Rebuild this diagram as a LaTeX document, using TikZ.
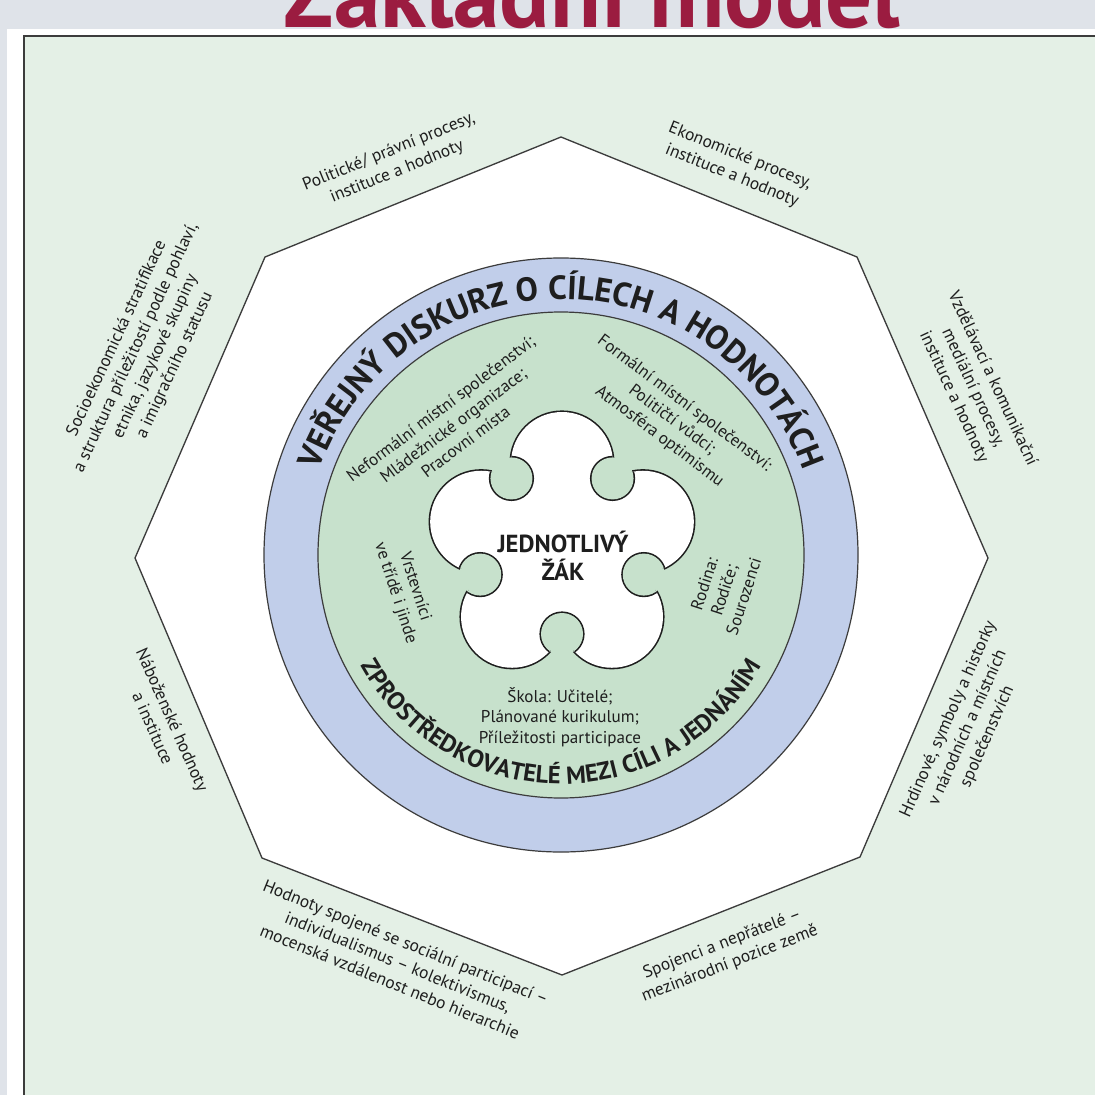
\documentclass[tikz,border=0pt]{standalone}
\usepackage{fontspec}
\setmainfont{PT Sans}
\usetikzlibrary{decorations.text}
\definecolor{panelgreen}{RGB}{228,240,230}
\definecolor{innergreen}{RGB}{199,225,204}
\definecolor{ringblue}{RGB}{193,206,234}
\definecolor{bggrey}{RGB}{223,227,233}
\definecolor{titlered}{RGB}{155,28,64}
\definecolor{ink}{RGB}{30,30,30}
\definecolor{edgegrey}{RGB}{60,60,60}
\tikzset{
  lbl/.style={font=\fontsize{13pt}{16pt}\selectfont, text=ink, align=center, inner sep=0pt},
  ilbl/.style={font=\fontsize{12.8pt}{15.5pt}\selectfont, text=ink, align=center, inner sep=0pt},
  outline/.style={draw=edgegrey, line width=0.9pt},
}
\begin{document}
\begin{tikzpicture}[x=0.75pt,y=-0.75pt]
\useasboundingbox (0,0) rectangle (1095,1095);
\fill[bggrey] (0,0) rectangle (1095,1095);
\fill[white] (7,29) rectangle (1095,1095);
\begin{scope}
\clip (0,0) rectangle (1095,1095);
\node[anchor=base, text=titlered, font=\fontsize{70pt}{70pt}\selectfont\bfseries, inner sep=0pt] (title) at (592,28) {Základní model};
\end{scope}
\draw[fill=panelgreen, draw=edgegrey, line width=1.2pt] (24,36) rectangle (1110,1110);

% octagon
\draw[fill=white, draw=edgegrey, line width=1pt] (561,137) -- (857,257) -- (988,558) -- (860,857) -- (562,975) -- (262,858) -- (135,558) -- (265,257) -- cycle;

% rings
\begin{scope}[shift={(561,555)}, y=0.75pt]
\draw[fill=ringblue, outline] (0,0) circle (297);
\draw[fill=innergreen, outline] (0,0) circle (243);
\path[decorate, decoration={text along path, text align=center, text color=ink,
  text={|\fontsize{25pt}{25pt}\selectfont\bfseries|VEŘEJNÝ DISKURZ O CÍLECH A HODNOTÁCH}}]
  (175:256) arc[start angle=175, end angle=5, radius=256];
\path[decorate, decoration={text along path, text align=center, text color=ink,
  text={|\fontsize{18.5pt}{18.5pt}\selectfont\bfseries|ZPROSTŘEDKOVATELÉ MEZI CÍLI A JEDNÁNÍM}}]
  (185:229) arc[start angle=185, end angle=355, radius=229];
\end{scope}

% flower
\begin{scope}[shift={(562,548)}, y=0.75pt]
\fill[white] (0,0) circle (72) \foreach \a in {18,90,162,234,306} {(\a:85) circle (51)};
\foreach \a in {18,90,162,234,306} \draw[ink, line width=2.4pt] (\a:85) circle (51);
\fill[white] (0,0) circle (72) \foreach \a in {18,90,162,234,306} {(\a:85) circle (51)};
\fill[innergreen] \foreach \b in {54,126,198,270,342} {(\b:86) circle (21)};
\begin{scope}
\clip (0,0) circle (72) \foreach \a in {18,90,162,234,306} {(\a:85) circle (51)};
\draw[ink, line width=2.4pt] \foreach \b in {54,126,198,270,342} {(\b:86) circle (21)};
\fill[innergreen] \foreach \b in {54,126,198,270,342} {(\b:86) circle (21)};
\end{scope}
\end{scope}

\node[font=\fontsize{18.5pt}{21pt}\selectfont\bfseries, text=ink, align=center, inner sep=0pt] (zak) at (563,556) {JEDNOTLIVÝ\\ŽÁK};

% inner labels
\node[ilbl, rotate=37] (neform) at (453,425) {Neformální místní společenství;\\Mládežnické organizace;\\Pracovní místa};
\node[ilbl, rotate=-37] (form) at (672,420) {Formální místní společenství:\\Političtí vůdci;\\Atmosféra optimismu};
\node[ilbl, rotate=-72] (vrst) at (405,590) {Vrstevníci\\ve třídě i jinde};
\node[ilbl, rotate=72] (rod) at (724,590) {Rodina:\\Rodiče;\\Sourozenci};
\node[ilbl] (skola) at (560,717) {Škola: Učitelé;\\Plánované kurikulum;\\Příležitosti participace};

% outer labels
\node[lbl, rotate=22] (pol) at (393,162) {Politické/ právní procesy,\\instituce a hodnoty};
\node[lbl, rotate=-22] (eko) at (736,166) {Ekonomické procesy,\\instituce a hodnoty};
\node[lbl, rotate=-65] (vzd) at (973,388) {Vzdělávací a komunikační\\mediální procesy,\\instituce a hodnoty};
\node[lbl, rotate=66] (hrd) at (968,728) {Hrdinové, symboly a historky\\v národních a místních\\společenstvích};
\node[lbl, rotate=21] (spoj) at (726,954) {Spojenci a nepřátelé –\\mezinárodní pozice země};
\node[lbl, rotate=-22] (hodn) at (398,962) {Hodnoty spojené se sociální participací –\\individualismus – kolektivismus,\\mocenská vzdálenost nebo hierarchie};
\node[lbl, rotate=-66] (nab) at (163,724) {Náboženské hodnoty\\a instituce};
\node[lbl, rotate=65] (soc) at (146,352) {Socioekonomická stratifikace\\a struktura příležitostí podle pohlaví,\\etnika, jazykové skupiny\\a imigračního statusu};
\end{tikzpicture}
\end{document}
